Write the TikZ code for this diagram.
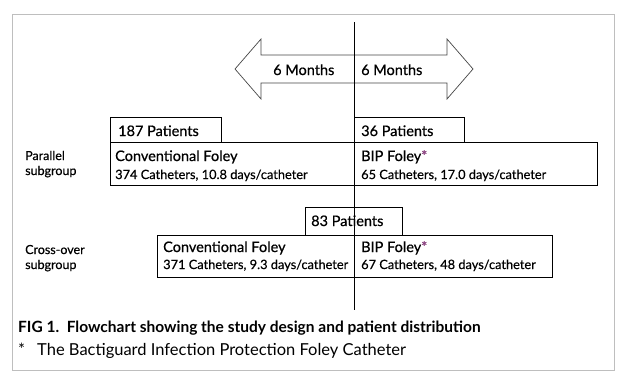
\documentclass[tikz,border=0pt]{standalone}
\usepackage{fontspec}
\setmainfont{Lato}
\definecolor{framegray}{RGB}{190,190,190}
\definecolor{arrowgray}{RGB}{70,70,70}
\definecolor{starpurple}{RGB}{140,70,130}
\tikzset{
  x=1bp, y=-1bp,
  boxline/.style={draw=black, line width=0.8bp},
  bigtxt/.style={anchor=base west, inner sep=0pt, font=\fontsize{14.5bp}{17bp}\selectfont\addfontfeature{FakeBold=0.6}},
  smalltxt/.style={anchor=base west, inner sep=0pt, font=\fontsize{12.8bp}{15bp}\selectfont\addfontfeature{FakeBold=0.5}},
  sidetxt/.style={anchor=base west, inner sep=0pt, font=\fontsize{12.5bp}{15bp}\selectfont\addfontfeature{FakeBold=0.5}},
  captxt/.style={anchor=base west, inner sep=0pt, font=\fontsize{15.5bp}{18bp}\selectfont},
  notetxt/.style={anchor=base west, inner sep=0pt, font=\fontsize{16.5bp}{18bp}\selectfont},
}
\newcommand{\purplestar}{\textcolor{starpurple}{*}}
\begin{document}
\begin{tikzpicture}
\useasboundingbox (0,0) rectangle (626,385);
% frame
\draw[draw=framegray, line width=1bp] (12,14) rectangle (614,370);

% double arrow
\draw[draw=arrowgray, line width=0.7bp, fill=white]
  (235,69) -- (261,39) -- (261,55) -- (447,55) -- (447,39) -- (473,69)
  -- (447,99) -- (447,83) -- (261,83) -- (261,99) -- cycle;
\node[bigtxt] (mleft) at (273,75) {6 Months};
\node[bigtxt] (mright) at (361,75) {6 Months};

% parallel subgroup
\draw[boxline] (110,117) rectangle (221,142);
\node[bigtxt] (p187) at (118,136) {187 Patients};
\draw[boxline] (354,117) rectangle (464,142);
\node[bigtxt] (p36) at (361,136) {36 Patients};
\draw[boxline] (110,142) rectangle (597,185);
\node[bigtxt] (pconv) at (115,161) {Conventional Foley};
\node[smalltxt] (pconvs) at (115,179) {374 Catheters, 10.8 days/catheter};
\node[bigtxt] (pbip) at (361,161) {BIP Foley\purplestar};
\node[smalltxt] (pbips) at (361,179) {65 Catheters, 17.0 days/catheter};
\node[sidetxt] (par1) at (25,160) {Parallel};
\node[sidetxt] (par2) at (25,175) {subgroup};

% cross-over subgroup
\draw[boxline] (305,207) rectangle (402,235);
\node[bigtxt] (p83) at (311,226) {83 Patients};
\draw[boxline] (157,235) rectangle (552,277);
\node[bigtxt] (cconv) at (163,252) {Conventional Foley};
\node[smalltxt] (cconvs) at (163,269) {371 Catheters, 9.3 days/catheter};
\node[bigtxt] (cbip) at (361,252) {BIP Foley\purplestar};
\node[smalltxt] (cbips) at (361,269) {67 Catheters, 48 days/catheter};
\node[sidetxt] (cro1) at (25,254) {Cross-over};
\node[sidetxt] (cro2) at (25,269) {subgroup};

% central time line
\coordinate (ltop) at (354,22);
\coordinate (lbot) at (354,310);
\draw[line width=0.8bp] (ltop) -- (lbot);

% caption
\node[captxt, font=\fontsize{15.5bp}{18bp}\selectfont\bfseries] (cap1) at (18,332) {FIG 1.\ \ Flowchart showing the study design and patient distribution};
\node[notetxt] (cap2a) at (18,355) {*};
\node[notetxt] (cap2) at (37,355) {The Bactiguard Infection Protection Foley Catheter};
\end{tikzpicture}
\end{document}
